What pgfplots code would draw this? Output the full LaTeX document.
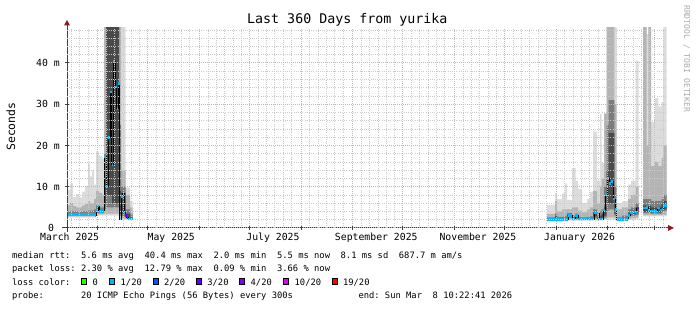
\documentclass[border=0pt]{standalone}
\usepackage{fontspec}
\setmainfont{DejaVu Sans Mono}
\usepackage{pgfplots}
\pgfplotsset{compat=1.18}
\usepackage{pgfplotstable}
\usepgfplotslibrary{fillbetween}

\definecolor{majgrid}{HTML}{F2A4A4}
\definecolor{mingrid}{HTML}{CACACA}
\definecolor{axiscol}{HTML}{404040}
\definecolor{arrowcol}{HTML}{8C1C1C}
\definecolor{wmcol}{HTML}{AAAAAA}
\definecolor{smokeA}{HTML}{DCDCDC}
\definecolor{smokeB}{HTML}{B4B4B4}
\definecolor{smokeC}{HTML}{7C7C7C}
\definecolor{smokeD}{HTML}{4A4A4A}
\definecolor{lossA}{HTML}{26FF00}
\definecolor{lossB}{HTML}{00B8FF}
\definecolor{lossC}{HTML}{0059FF}
\definecolor{lossD}{HTML}{5E00FF}
\definecolor{lossE}{HTML}{7E00FF}
\definecolor{lossF}{HTML}{DD00FF}
\definecolor{lossG}{HTML}{FF0000}

% smoke: d = days since start of the 360-day window
\pgfplotstableread{
d mn lo dl cl ch dh hi mx
0.0 2.5 2.8 3.0 3.2 3.2 4.0 5.5 9.2
1.8 2.5 2.8 3.0 3.2 3.2 4.0 6.0 10.8
3.6 2.5 2.8 3.0 3.2 3.2 4.0 5.3 7.5
5.4 2.5 2.8 3.0 3.2 3.2 4.0 5.0 8.2
7.2 2.5 2.8 3.0 3.2 3.2 3.9 5.0 7.4
9.0 2.5 2.8 3.0 3.2 3.2 4.0 5.5 8.8
10.8 2.5 2.8 3.0 3.2 3.2 4.1 5.8 10.2
12.6 2.5 2.8 3.0 3.2 3.2 4.2 6.5 15.6
13.8 2.5 2.8 3.0 3.2 3.2 4.2 6.0 12.5
15.0 2.5 2.8 3.0 3.2 3.2 4.2 6.0 14.0
16.2 2.5 2.8 3.0 3.2 3.2 4.5 7.0 10.5
17.4 3.0 3.3 3.6 3.9 4.5 5.5 9.0 18.5
19.2 3.0 3.3 3.6 3.9 4.3 5.0 8.5 17.5
21.0 3.0 3.3 3.6 3.9 4.3 5.0 8.0 16.8
22.2 3.0 3.5 4.5 6.0 12 18 60 60
23.4 3.0 3.5 5.0 8.0 60 60 60 60
27.0 3.0 3.5 5.0 6.0 60 60 60 60
31.2 2.0 2.5 3.0 3.5 9.0 25 60 60
32.4 2.0 2.3 2.8 3.5 8.5 10 14 60
35.1 2.0 2.2 2.4 2.6 3.5 4.5 8.0 9.8
37.8 2.0 2.1 2.2 2.3 2.6 3.5 5.0 6.5
39.3 2.0 2.1 2.2 2.3 2.6 3.5 5.0 6.5
}\SmkA

\pgfplotstableread{
d mn lo dl cl ch dh hi mx
288.0 1.8 1.9 2.0 2.1 2.3 2.6 3.4 5.6
292.8 1.8 1.9 2.0 2.2 2.8 3.5 6.5 8.4
294.0 1.8 1.9 2.0 2.1 2.3 2.7 4.0 7.0
297.0 1.8 1.9 2.0 2.1 2.3 2.7 4.5 8.4
298.8 1.8 1.9 2.0 2.1 2.3 2.8 4.5 10.8
300.0 1.8 2.0 2.4 2.8 3.2 3.6 4.5 6.8
303.0 1.8 1.9 2.0 2.1 2.5 3.0 5.0 14.5
305.1 1.8 1.9 2.1 2.5 3.2 3.5 5.0 11.5
306.6 1.8 1.9 2.0 2.1 2.3 2.7 4.2 9.5
309.0 1.8 1.9 2.0 2.1 2.3 2.6 3.8 6.0
312.0 1.8 1.9 2.0 2.1 2.3 2.7 4.5 7.0
313.8 1.8 1.9 2.0 2.1 2.4 2.8 5.0 8.8
315.6 1.8 2.0 2.4 2.8 3.8 4.5 9.0 23.4
318.0 1.8 1.9 2.0 2.1 2.4 3.0 6.0 11.5
319.8 1.8 2.0 2.2 2.4 3.0 4.0 10 27.7
320.7 1.8 2.0 2.2 2.5 3.5 4.5 12 15.7
322.2 2.0 2.2 2.6 3.0 5.0 10 27.7 27.7
323.8 2.0 2.5 4.0 6.0 14 25 60 60
324.9 2.0 2.6 4.5 6.0 23 31 60 60
328.4 2.0 2.3 3.0 3.5 6.0 10 30 60
329.8 1.8 1.9 2.0 2.1 2.3 2.6 4.5 6.0
333.0 1.8 1.9 2.0 2.1 2.4 3.0 5.0 6.5
336.6 1.9 2.2 2.8 3.0 3.6 4.5 7.0 10.5
338.4 1.9 2.4 3.0 3.4 4.2 5.0 8.0 11.5
341.1 2.0 2.5 3.2 3.8 5.0 6.0 10 40.6
342.9 2.0 2.5 3.2 3.8 5.0 6.0 10 40.6
}\SmkB

\pgfplotstableread{
d mn lo dl cl ch dh hi mx
345.6 2.8 3.1 3.6 3.9 5.5 7.0 60 60
347.8 2.8 3.1 3.6 3.9 5.3 7.0 20 47
348.8 2.8 3.1 3.6 3.9 5.3 7.0 60 60
350.4 2.8 3.1 3.5 3.8 5.0 6.5 15 25.7
352.8 2.8 3.1 3.5 3.8 5.0 6.5 16 31.5
354.8 2.8 3.1 3.5 3.8 5.2 6.5 15 29.5
356.8 2.8 3.1 3.8 4.2 5.8 7.0 17 30.5
357.8 2.8 3.2 4.0 4.5 6.5 8.0 20 60
359.7 2.8 3.2 4.0 4.5 6.5 8.0 20 60
}\SmkC

% median rtt (ms)
\pgfplotstableread{
d m
0.0 3.4
16.8 3.0
17.4 4.2
18.6 5.3
19.2 4.0
22.2 17.3
23.4 10.0
24.6 22.0
25.8 33.0
26.7 15.3
27.6 40.3
28.8 34.2
29.7 29.0
30.6 35.0
31.5 2.2
32.4 7.6
33.3 8.5
34.2 3.7
34.8 3.0
35.7 2.6
36.6 2.2
39.3 2.2
}\MedA

\pgfplotstableread{
d m
288.0 2.1
300.6 3.1
303.0 2.2
304.8 3.1
306.6 2.2
316.2 3.6
319.2 2.2
321.6 4.4
322.8 8.0
324.0 12.0
325.2 10.8
326.4 11.2
327.6 7.0
328.8 4.5
329.7 2.1
336.6 3.1
337.8 3.7
339.6 3.9
341.7 4.8
342.9 4.8
}\MedB

\pgfplotstableread{
d m
345.6 4.8
347.4 5.0
348.6 4.4
349.8 4.1
352.2 4.0
354.0 4.8
355.8 4.4
357.0 4.6
357.6 5.4
359.7 5.4
}\MedC

\newcommand{\smokeband}[5]{%
  \addplot[name path=L#5, draw=none, const plot, forget plot] table[x=d,y=#2]{#1};
  \addplot[name path=H#5, draw=none, const plot, forget plot] table[x=d,y=#3]{#1};
  \addplot[fill=#4, draw=none, forget plot] fill between[of=L#5 and H#5];
}

\pgfplotsset{chartgeom/.style={
  at={(67pt,82pt)}, anchor=south west,
  scale only axis, width=600pt, height=200pt,
  xmin=0, xmax=360, ymin=0, ymax=48.48,
}}

\begin{document}
\frenchspacing
\begin{tikzpicture}
\path (0,0) rectangle (697pt,310pt);

\begin{axis}[chartgeom,
  axis on top,
  axis line style={draw=none},
  tick pos=left,
  xtick={18.57,48.57,79.57,109.57,140.57,171.57,201.57,232.57,262.57,293.57,324.57,352.57},
  xticklabels={},
  minor xtick={2.57,7.57,12.57,23.57,28.57,33.57,38.57,43.57,53.57,58.57,63.57,68.57,73.57,84.57,89.57,94.57,99.57,104.57,114.57,119.57,124.57,129.57,134.57,145.57,150.57,155.57,160.57,165.57,176.57,181.57,186.57,191.57,196.57,206.57,211.57,216.57,221.57,226.57,237.57,242.57,247.57,252.57,257.57,267.57,272.57,277.57,282.57,287.57,298.57,303.57,308.57,313.57,318.57,329.57,334.57,339.57,344.57,349.57,357.57},
  extra x ticks={1.57,62.57,123.57,185.57,246.57,307.57},
  extra x tick labels={March 2025,May 2025,July 2025,September 2025,November 2025,January 2026},
  extra x tick style={grid=none, major tick length=0pt},
  ytick={0,10,20,30,40},
  yticklabels={0~~,10~m,20~m,30~m,40~m},
  minor ytick={2,4,6,8,12,14,16,18,22,24,26,28,32,34,36,38,42,44,46,48},
  grid=both,
  major grid style={color=majgrid, line width=1pt, dash pattern=on 1pt off 1pt},
  minor grid style={color=mingrid, line width=0.8pt, dash pattern=on 1pt off 1.2pt},
  tick style={color=axiscol, line width=1pt},
  major tick length=4pt, minor tick length=0pt, tick align=center,
  every tick label/.append style={font=\fontsize{9.8}{10}\selectfont, inner sep=0pt},
  xticklabel style={anchor=base, yshift=-13pt},
  yticklabel style={anchor=east, xshift=-5pt},
]
\smokeband{\SmkA}{mn}{mx}{smokeA}{a1}
\smokeband{\SmkA}{lo}{hi}{smokeB}{a2}
\smokeband{\SmkA}{dl}{dh}{smokeC}{a3}
\smokeband{\SmkA}{cl}{ch}{smokeD}{a4}
\smokeband{\SmkB}{mn}{mx}{smokeA}{b1}
\smokeband{\SmkB}{lo}{hi}{smokeB}{b2}
\smokeband{\SmkB}{dl}{dh}{smokeC}{b3}
\smokeband{\SmkB}{cl}{ch}{smokeD}{b4}
\smokeband{\SmkC}{mn}{mx}{smokeA}{c1}
\smokeband{\SmkC}{lo}{hi}{smokeB}{c2}
\smokeband{\SmkC}{dl}{dh}{smokeC}{c3}
\smokeband{\SmkC}{cl}{ch}{smokeD}{c4}
\end{axis}

\begin{axis}[chartgeom, hide axis]
\addplot[const plot, black, line width=0.8pt] table[x=d,y=m]{\MedA};
\addplot[const plot, black, line width=0.8pt] table[x=d,y=m]{\MedB};
\addplot[const plot, black, line width=0.8pt] table[x=d,y=m]{\MedC};
\addplot[jump mark left, lossB, line width=2.6pt] table[x=d,y=m]{\MedA};
\addplot[jump mark left, lossB, line width=2.6pt] table[x=d,y=m]{\MedB};
\addplot[jump mark left, lossB, line width=2.6pt] table[x=d,y=m]{\MedC};
\addplot[jump mark left, lossD, line width=2.6pt] coordinates {(34.8,3.0) (35.7,3.0)};
\addplot[jump mark left, lossE, line width=2.6pt] coordinates {(35.7,2.6) (36.6,2.6)};
\addplot[jump mark left, lossE, line width=2.6pt] coordinates {(341.7,4.8) (342.9,4.8)};
\end{axis}

% axes with arrows
\draw[axiscol, line width=1pt] (62pt,82pt) -- (669pt,82pt);
\draw[axiscol, line width=1pt] (67pt,78pt) -- (67pt,286pt);
\fill[arrowcol] (668pt,85pt) -- (674pt,82pt) -- (668pt,79pt) -- cycle;
\fill[arrowcol] (64pt,284.5pt) -- (70pt,284.5pt) -- (67pt,290pt) -- cycle;

% title, axis title, watermark
\node[anchor=base, inner sep=0pt] at (347.3pt,286pt) {\fontsize{13.3}{14}\selectfont Last 360 Days from yurika};
\node[rotate=90, inner sep=0pt] at (11pt,183.3pt) {\fontsize{11.4}{12}\selectfont Seconds};
\node[rotate=-90, anchor=west, inner sep=0pt, text=wmcol] at (686.7pt,305pt) {\fontsize{8.1}{9}\selectfont RRDTOOL / TOBI OETIKER};

% legend
\begingroup
\fontsize{8.8}{9}\selectfont
\node[anchor=base west, inner sep=0pt] at (12pt,51.7pt) {median~rtt:~~5.6~ms~avg~~40.4~ms~max~~2.0~ms~min~~5.5~ms~now~~8.1~ms~sd~~687.7~m~am/s};
\node[anchor=base west, inner sep=0pt] at (12pt,38.2pt) {packet~loss:~2.30~\%~avg~~12.79~\%~max~~0.09~\%~min~~3.66~\%~now};
\node[anchor=base west, inner sep=0pt] at (12pt,24.5pt) {loss~color:};
\foreach \bx/\col/\lab in {81.3/lossA/0, 109.3/lossB/1\slash 20, 152.7/lossC/2\slash 20, 196.0/lossD/3\slash 20, 239.3/lossE/4\slash 20, 283.3/lossF/10\slash 20, 331.7/lossG/19\slash 20}{
  \filldraw[fill=\col, draw=black, line width=1pt] (\bx pt+0.5pt,25pt) rectangle (\bx pt+5.5pt,31pt);
  \node[anchor=base west, inner sep=0pt] at (\bx pt+11.2pt,24.5pt) {\lab};
}
\node[anchor=base west, inner sep=0pt] at (12pt,11pt) {probe:~~~~~~~20~ICMP~Echo~Pings~(56~Bytes)~every~300s};
\node[anchor=base west, inner sep=0pt] at (358.3pt,11pt) {end:~Sun~Mar~~8~10:22:41~2026};
\endgroup
\end{tikzpicture}
\end{document}
